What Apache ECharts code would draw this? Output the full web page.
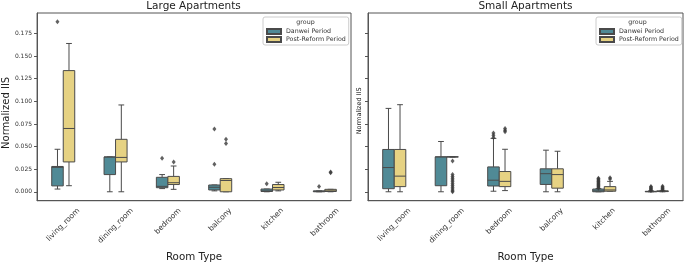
<!DOCTYPE html>
<html>
<head>
<meta charset="utf-8">
<title>Normalized IIS by room type</title>
<script src="https://cdn.jsdelivr.net/npm/echarts@6/dist/echarts.min.js"></script>
<style>
  html, body { margin: 0; padding: 0; background: #fff; }
  #chart { width: 685px; height: 267px; }
</style>
</head>
<body>
<div id="chart"></div>
<script>
// categories and tick values
var rooms = ['living_room', 'dining_room', 'bedroom', 'balcony', 'kitchen', 'bathroom'];
var yTicks = [0, 0.025, 0.05, 0.075, 0.1, 0.125, 0.15, 0.175];

// box stats per room: [min whisker, q1, median, q3, max whisker]
var largeDanwei = [
  [0.003, 0.0065, 0.027, 0.028, 0.047],
  [0.0, 0.019, 0.0385, 0.0385, 0.0385],
  [0.0035, 0.0045, 0.006, 0.016, 0.019],
  [0.001, 0.002, 0.005, 0.0075, 0.0075],
  [0.0, 0.0003, 0.001, 0.003, 0.003],
  [0.0, 0.0, 0.0005, 0.001, 0.001]
];
var largeReform = [
  [0.0067, 0.033, 0.070, 0.134, 0.164],
  [0.0, 0.033, 0.038, 0.058, 0.096],
  [0.0027, 0.008, 0.010, 0.017, 0.0285],
  [0.0, 0.0, 0.0125, 0.0145, 0.0145],
  [0.001, 0.002, 0.0047, 0.008, 0.0105],
  [0.0, 0.0003, 0.001, 0.0027, 0.0027]
];
var smallDanwei = [
  [0.0, 0.0034, 0.0268, 0.0468, 0.0922],
  [0.0, 0.0067, 0.0386, 0.0386, 0.0556],
  [0.0006, 0.0064, 0.0128, 0.0275, 0.059],
  [0.0, 0.0081, 0.020, 0.0254, 0.046],
  [0.0, 0.0, 0.001, 0.003, 0.0035],
  [0.0, 0.0, 0.0002, 0.0005, 0.001]
];
var smallReform = [
  [0.0, 0.0057, 0.0173, 0.0468, 0.0963],
  [0.0386, 0.0386, 0.0386, 0.0386, 0.0386],
  [0.0013, 0.0057, 0.0115, 0.0224, 0.047],
  [0.0, 0.004, 0.019, 0.0254, 0.0448],
  [0.0006, 0.0006, 0.002, 0.0057, 0.0115],
  [0.0, 0.0002, 0.0005, 0.001, 0.0015]
];

// outliers: [room index, value]
var largeDanweiOut = [[0, 0.188], [2, 0.037], [3, 0.0695], [3, 0.0305], [4, 0.0088], [5, 0.0057]];
var largeReformOut = [[2, 0.033], [3, 0.058], [3, 0.0535], [5, 0.021], [5, 0.022]];
var smallDanweiOut = [
  [2, 0.060], [2, 0.0625], [2, 0.065],
  [4, 0.004], [4, 0.005], [4, 0.006], [4, 0.007], [4, 0.008], [4, 0.009],
  [4, 0.010], [4, 0.011], [4, 0.012], [4, 0.013], [4, 0.014], [4, 0.015],
  [5, 0.0015], [5, 0.002], [5, 0.003], [5, 0.004], [5, 0.005], [5, 0.0057]
];
var smallReformOut = [
  [1, 0.034], [1, 0.019], [1, 0.017], [1, 0.015], [1, 0.013], [1, 0.011],
  [1, 0.009], [1, 0.007], [1, 0.005], [1, 0.003], [1, 0.001], [1, 0.0],
  [2, 0.0665], [2, 0.068], [2, 0.070],
  [4, 0.014], [4, 0.0156],
  [5, 0.002], [5, 0.003], [5, 0.004], [5, 0.005], [5, 0.006]
];

var TEAL = '#508a96';
var YELLOW = '#e6d283';
var EDGE = '#4a4a4a';
var FONT = 'DejaVu Sans';
var XLABEL_SIZE = 7.5;
var XLABEL_MARGIN = 2;

function withIndex(stats) {
  return stats.map(function (s, i) { return [i].concat(s); });
}

// matplotlib centres a 45deg label under its tick; echarts anchors it at the
// text end, so each label gets padding that moves its centre below the tick
function xLabelRich() {
  var ctx = document.createElement('canvas').getContext('2d');
  ctx.font = XLABEL_SIZE + 'px "' + FONT + '"';
  var rich = {};
  rooms.forEach(function (r, i) {
    var L = ctx.measureText(r).width;
    var H = (L + XLABEL_SIZE) * 0.7071;
    var D = (6 - XLABEL_MARGIN) + H / 2;
    var p = D * 1.4142;
    rich['r' + i] = { fontSize: XLABEL_SIZE, fontFamily: FONT, color: '#333', padding: [p, p, 0, 0] };
  });
  return rich;
}

// draws one box, shifted left (-1) or right (+1) of the category centre
function boxRenderer(side) {
  return function (params, api) {
    var c = api.value(0);
    var band = api.size([1, 0])[0];
    var w = band * 0.22;
    var cx = api.coord([c, 0])[0] + side * w / 2;
    var p = [1, 2, 3, 4, 5].map(function (i) { return api.coord([c, api.value(i)])[1]; });
    var ls = { stroke: EDGE, lineWidth: 1 };
    return {
      type: 'group',
      children: [
        { type: 'line', shape: { x1: cx, y1: p[0], x2: cx, y2: p[1] }, style: ls },
        { type: 'line', shape: { x1: cx, y1: p[3], x2: cx, y2: p[4] }, style: ls },
        { type: 'line', shape: { x1: cx - w / 4, y1: p[0], x2: cx + w / 4, y2: p[0] }, style: ls },
        { type: 'line', shape: { x1: cx - w / 4, y1: p[4], x2: cx + w / 4, y2: p[4] }, style: ls },
        { type: 'rect', shape: { x: cx - w / 2, y: p[3], width: w, height: p[1] - p[3] },
          style: { fill: api.visual('color'), stroke: EDGE, lineWidth: 1 } },
        { type: 'line', shape: { x1: cx - w / 2, y1: p[2], x2: cx + w / 2, y2: p[2] }, style: ls }
      ]
    };
  };
}

function boxSeries(name, stats, side, color, idx) {
  return {
    name: name, type: 'custom', xAxisIndex: idx, yAxisIndex: idx,
    renderItem: boxRenderer(side),
    itemStyle: { color: color, borderColor: EDGE, borderWidth: 1 },
    encode: { x: 0, y: [1, 2, 3, 4, 5] },
    data: withIndex(stats), silent: true
  };
}

function outSeries(points, side, idx) {
  return {
    name: 'outliers', type: 'scatter', xAxisIndex: idx, yAxisIndex: idx,
    symbol: 'diamond', symbolSize: [4, 5], symbolOffset: [side * 5.8, 0],
    itemStyle: { color: '#3a3a3a' }, data: points, silent: true
  };
}

var rich = xLabelRich();

function xAxis(idx) {
  return {
    type: 'category', gridIndex: idx, data: rooms,
    axisLine: { onZero: false, lineStyle: { color: '#555' } },
    axisTick: { alignWithLabel: true, length: 3, lineStyle: { color: '#555' } },
    axisLabel: {
      rotate: 45, align: 'center', verticalAlign: 'middle', margin: XLABEL_MARGIN, interval: 0,
      formatter: function (v, i) { return '{r' + i + '|' + v + '}'; },
      rich: rich
    },
    name: 'Room Type', nameLocation: 'middle', nameGap: 40,
    nameTextStyle: { fontSize: 10.3, color: '#222', fontFamily: FONT }
  };
}

function yAxis(idx, showLabels, nameSize, nameGap, namePad) {
  return {
    type: 'value', gridIndex: idx, min: -0.0099, max: 0.1977,
    splitLine: { show: false },
    axisLine: { show: true, lineStyle: { color: '#555' } },
    axisTick: { show: true, length: 3, customValues: yTicks, lineStyle: { color: '#555' } },
    axisLabel: { show: showLabels, customValues: yTicks, fontSize: 6, color: '#333', margin: 5,
      fontFamily: FONT, formatter: function (v) { return v.toFixed(3); } },
    name: 'Normalized IIS', nameLocation: 'middle', nameGap: nameGap,
    nameTextStyle: { fontSize: nameSize, color: '#222', fontFamily: FONT, padding: [0, namePad, 0, 0] }
  };
}

function legend(left) {
  return {
    orient: 'vertical', left: left, top: 17,
    data: ['Danwei Period', 'Post-Reform Period'],
    icon: 'rect', itemWidth: 14, itemHeight: 5, itemGap: 1,
    padding: [11, 3, 2, 3],
    backgroundColor: '#fff', borderColor: '#ccc', borderWidth: 1, borderRadius: 2,
    textStyle: { fontSize: 6.3, color: '#333', fontFamily: FONT },
    selectedMode: false
  };
}

var chart = echarts.init(document.getElementById('chart'), null, { renderer: 'canvas' });
chart.setOption({
  animation: false,
  backgroundColor: '#fff',
  textStyle: { fontFamily: FONT },
  grid: [
    { left: 36, right: 334, top: 13, bottom: 50, show: true, borderColor: '#555', borderWidth: 1 },
    { left: 368, right: 2, top: 13, bottom: 50, show: true, borderColor: '#555', borderWidth: 1 }
  ],
  xAxis: [xAxis(0), xAxis(1)],
  yAxis: [yAxis(0, true, 10, 25, 12), yAxis(1, false, 6.5, 5, 8)],
  legend: [legend(263), legend(596)],
  graphic: [
    { type: 'text', x: 193.5, y: 6.5, style: { text: 'Large Apartments', fontSize: 10.5, fontFamily: FONT,
      fill: '#222', textAlign: 'center', textVerticalAlign: 'middle' } },
    { type: 'text', x: 525.5, y: 6.5, style: { text: 'Small Apartments', fontSize: 10.5, fontFamily: FONT,
      fill: '#222', textAlign: 'center', textVerticalAlign: 'middle' } },
    { type: 'text', x: 305.5, y: 22, z: 100, style: { text: 'group', fontSize: 6.3, fontFamily: FONT,
      fill: '#333', textAlign: 'center', textVerticalAlign: 'middle' } },
    { type: 'text', x: 637.5, y: 22, z: 100, style: { text: 'group', fontSize: 6.3, fontFamily: FONT,
      fill: '#333', textAlign: 'center', textVerticalAlign: 'middle' } }
  ],
  series: [
    boxSeries('Danwei Period', largeDanwei, -1, TEAL, 0),
    boxSeries('Post-Reform Period', largeReform, 1, YELLOW, 0),
    outSeries(largeDanweiOut, -1, 0),
    outSeries(largeReformOut, 1, 0),
    boxSeries('Danwei Period', smallDanwei, -1, TEAL, 1),
    boxSeries('Post-Reform Period', smallReform, 1, YELLOW, 1),
    outSeries(smallDanweiOut, -1, 1),
    outSeries(smallReformOut, 1, 1)
  ]
});
</script>
</body>
</html>
